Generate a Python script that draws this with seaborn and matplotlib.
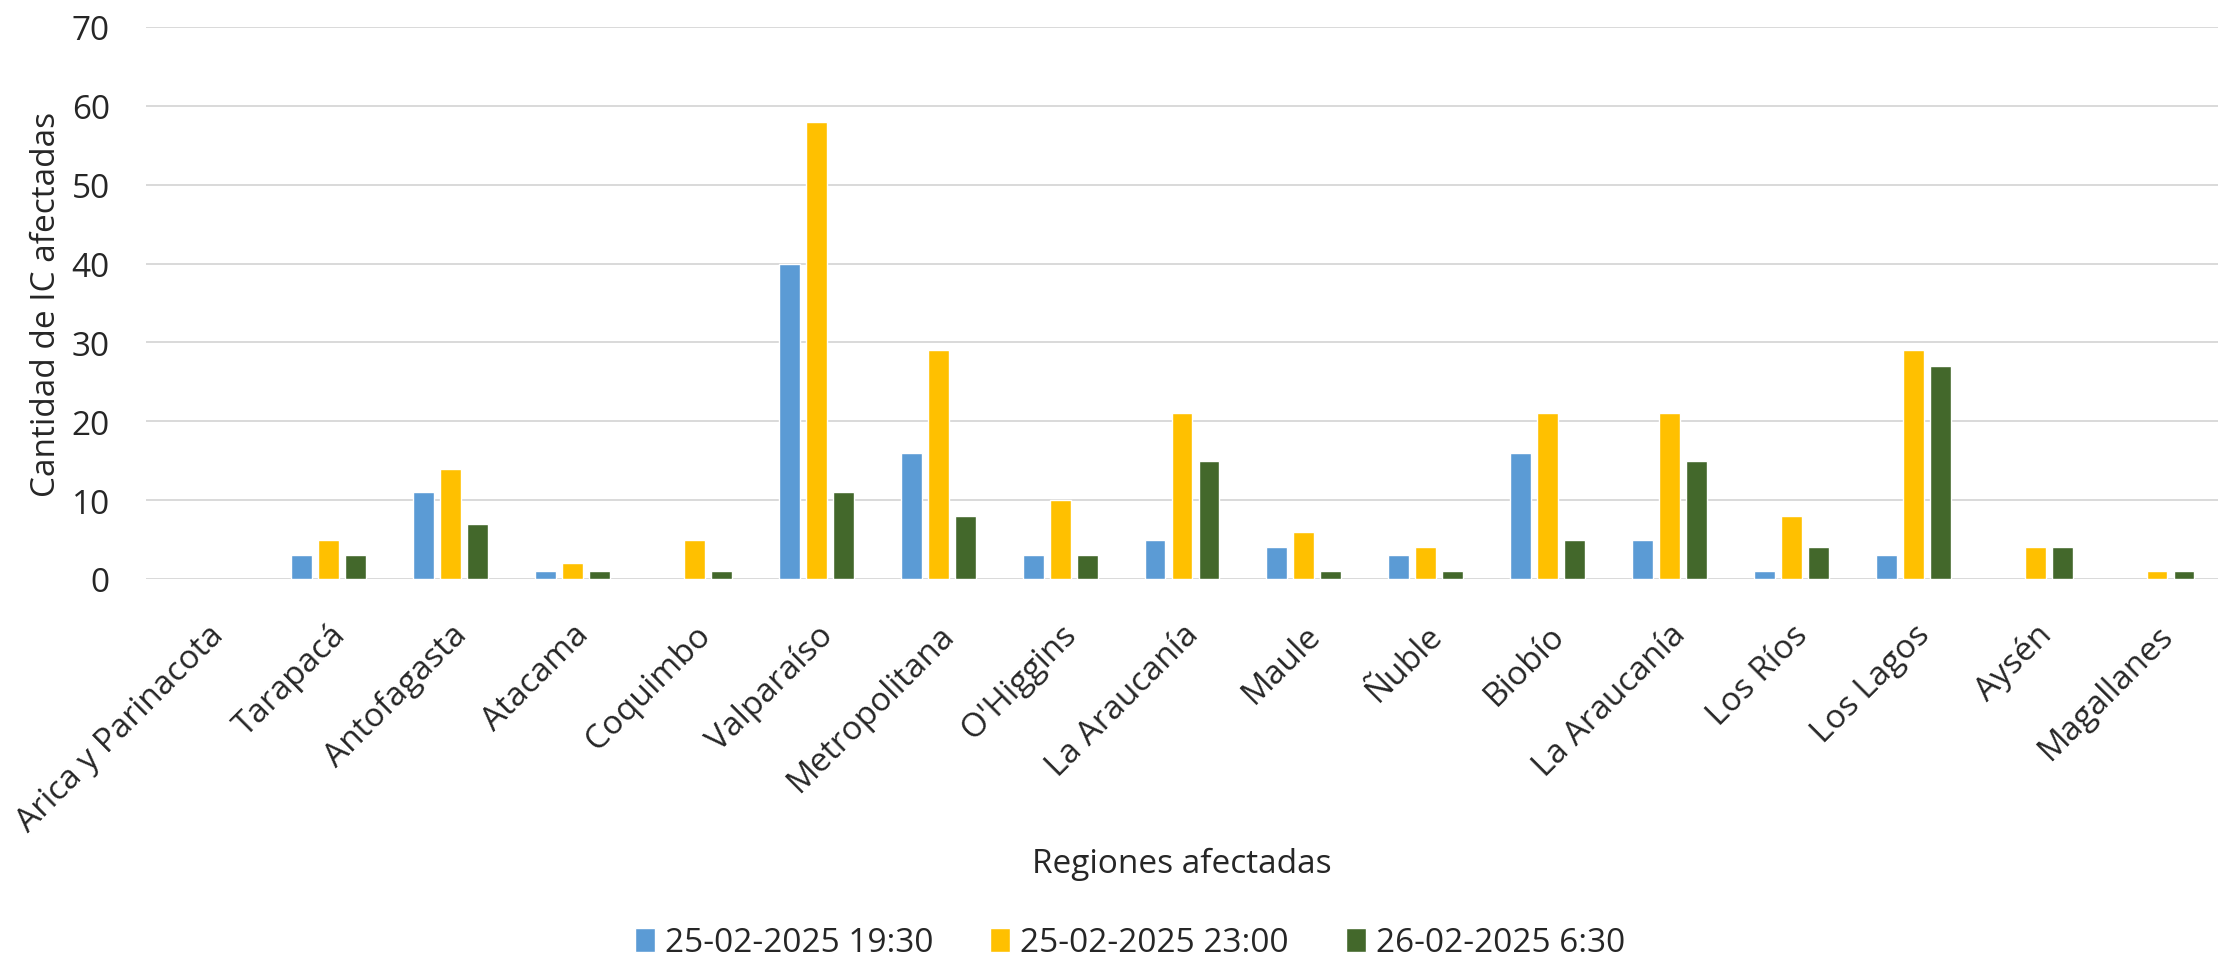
import numpy as np
import pandas as pd
import seaborn as sns
import matplotlib.pyplot as plt

sns.set_theme(style="whitegrid")
plt.rcParams['font.family'] = ['Open Sans', 'DejaVu Sans']

regiones = ["Arica y Parinacota", "Tarapacá", "Antofagasta", "Atacama", "Coquimbo",
            "Valparaíso", "Metropolitana", "O'Higgins", "La Araucanía", "Maule",
            "Ñuble", "Biobío", "La Araucanía", "Los Ríos", "Los Lagos", "Aysén",
            "Magallanes"]
series = ["25-02-2025 19:30", "25-02-2025 23:00", "26-02-2025 6:30"]
v_1930 = [np.nan, 3, 11, 1, np.nan, 40, 16, 3, 5, 4, 3, 16, 5, 1, 3, np.nan, np.nan]
v_2300 = [np.nan, 5, 14, 2, 5, 58, 29, 10, 21, 6, 4, 21, 21, 8, 29, 4, 1]
v_0630 = [np.nan, 3, 7, 1, 1, 11, 8, 3, 15, 1, 1, 5, 15, 4, 27, 4, 1]
colores = ["#5B9BD5", "#FFC000", "#43682B"]

# long format, region index as x (names repeat: La Araucanía twice)
pos = list(range(len(regiones)))
df = pd.DataFrame({
    "pos": pos * 3,
    "serie": [series[0]] * 17 + [series[1]] * 17 + [series[2]] * 17,
    "valor": v_1930 + v_2300 + v_0630,
})

fig = plt.figure(figsize=(22.18, 9.62), dpi=100)
ax = fig.add_axes([146 / 2218, 1 - 580 / 962, 1 - 146 / 2218, 552 / 962])

sns.barplot(df, x="pos", y="valor", hue="serie", order=pos, hue_order=series,
            palette=dict(zip(series, colores)), saturation=1,
            width=0.665, gap=0.23, edgecolor="white", linewidth=1, ax=ax)

ax.set_ylim(0, 70)
ax.set_yticks(range(0, 71, 10))
ax.set_xticks(pos)
ax.set_xticklabels(regiones, rotation=45, ha="right", va="top", rotation_mode="anchor")
ax.tick_params(axis="x", length=0, pad=28, labelsize=24)
ax.tick_params(axis="y", length=0, pad=26, labelsize=24)
ax.grid(axis="y", color="#D9D9D9", linewidth=1.4)
ax.grid(axis="x", visible=False)
ax.set_axisbelow(True)
sns.despine(ax=ax, left=True, top=True, right=True, bottom=True)

ax.set_ylabel("Cantidad de IC afectadas", fontsize=24)
ax.yaxis.set_label_coords(-0.040, 0.5)
ax.set_xlabel("Regiones afectadas", fontsize=24, va="center")
ax.xaxis.set_label_coords(0.5, -0.515)

ax.get_legend().remove()
handles, labels = ax.get_legend_handles_labels()
fig.legend(handles, labels, loc="center", bbox_to_anchor=(1130 / 2218, 1 - 944 / 962),
           ncol=3, frameon=False, fontsize=24, handlelength=0.6, handleheight=0.7,
           handletextpad=0.3, columnspacing=1.7)

plt.savefig("out.png", dpi=100)
plt.close()
